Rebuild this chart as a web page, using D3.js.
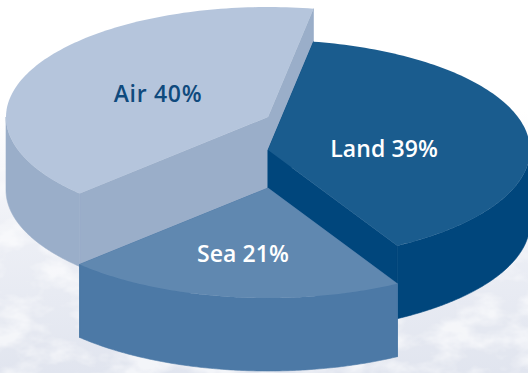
<!DOCTYPE html>
<html>
<head>
<meta charset="utf-8">
<script src="https://cdn.jsdelivr.net/npm/d3@7"></script>
<style>
  html, body { margin: 0; padding: 0; background: #fff; }
  svg { display: block; }
  text { font-family: "Open Sans", sans-serif; font-size: 23px; }
</style>
</head>
<body>
<script>
// Share of transport by mode
const categories = ["Land", "Sea", "Air"];
const shares = [39, 21, 40];
const topColours = ["#1a5c8e", "#6088b0", "#b5c5dc"];
const sideColours = ["#00467c", "#4c79a6", "#9aaec9"];
const labelColours = ["#ffffff", "#ffffff", "#0f4a7d"];
const labelWeights = [600, 600, 600];
const labelTracking = [0.1, 0.1, 0.7];

const width = 528, height = 373;
const rx = 262, ry = 110, depth = 73, cx = 268;
// Each wedge is pulled out vertically from the shared axis.
const centreY = { Land: 150, Sea: 188, Air: 117 };
const labelPos = { Land: [384, 157], Sea: [243, 262], Air: [158, 102] };

const svg = d3.select("body").append("svg").attr("width", width).attr("height", height);
const defs = svg.append("defs");

const fade = defs.append("linearGradient").attr("id", "fade")
  .attr("x1", 0).attr("x2", 0).attr("y1", 0).attr("y2", 1);
fade.append("stop").attr("offset", "0.3").attr("stop-color", "#ffffff");
fade.append("stop").attr("offset", "0.6").attr("stop-color", "#eef0f6");
fade.append("stop").attr("offset", "1").attr("stop-color", "#e1e5ef");

// Pale cloud texture behind the chart
const clouds = defs.append("filter").attr("id", "clouds")
  .attr("x", 0).attr("y", 0).attr("width", "100%").attr("height", "100%");
clouds.append("feTurbulence").attr("type", "fractalNoise")
  .attr("baseFrequency", "0.025 0.04").attr("numOctaves", 4).attr("seed", 11);
clouds.append("feColorMatrix").attr("type", "matrix")
  .attr("values", "0 0 0 0 1  0 0 0 0 1  0 0 0 0 1  3 0 0 0 -1.2");

const mask = defs.append("linearGradient").attr("id", "cloudFade")
  .attr("x1", 0).attr("x2", 0).attr("y1", 0).attr("y2", 1);
mask.append("stop").attr("offset", "0.35").attr("stop-color", "#000");
mask.append("stop").attr("offset", "0.65").attr("stop-color", "#fff");
defs.append("mask").attr("id", "cloudMask").append("rect")
  .attr("width", width).attr("height", height).attr("fill", "url(#cloudFade)");

svg.append("rect").attr("width", width).attr("height", height).attr("fill", "url(#fade)");
svg.append("g").attr("mask", "url(#cloudMask)").append("rect")
  .attr("width", width).attr("height", height).attr("filter", "url(#clouds)").attr("opacity", 0.6);

const rad = d => d * Math.PI / 180;
const pie = d3.pie().sort(null).startAngle(rad(10)).endAngle(rad(370));
const slices = pie(shares).map((s, i) => ({
  name: categories[i],
  start: s.startAngle,
  end: s.endAngle,
  top: topColours[i],
  side: sideColours[i],
  label: labelColours[i],
  weight: labelWeights[i],
  tracking: labelTracking[i],
  text: `${categories[i]} ${shares[i]}%`
}));

const at = (t, y0) => [cx + rx * Math.sin(t), y0 - ry * Math.cos(t)];
const line = d3.line();
const rimPoints = (a, b, y0) => d3.range(0, 121).map(k => at(a + (b - a) * k / 120, y0));

function drawSlice(s) {
  const y0 = centreY[s.name];
  const y1 = y0 + depth;
  const g = svg.append("g").attr("class", "slice");
  // Flat cut faces along both radii; a hairline stroke closes the seams
  [s.start, s.end].forEach(t => {
    const p = at(t, y0), q = at(t, y1);
    g.append("path").attr("fill", s.side).attr("stroke", s.side).attr("stroke-width", 0.6)
      .attr("d", line([[cx, y0], p, q, [cx, y1]]) + "Z");
  });
  // Outer curved wall, only the part facing the viewer
  const a = Math.max(s.start, rad(90)), b = Math.min(s.end, rad(270));
  if (b > a) {
    g.append("path").attr("fill", s.side).attr("stroke", s.side).attr("stroke-width", 0.6)
      .attr("d", line(rimPoints(a, b, y0).concat(rimPoints(b, a, y1))) + "Z");
  }
  // Top face
  g.append("path").attr("fill", s.top)
    .attr("d", line([[cx, y0]].concat(rimPoints(s.start, s.end, y0))) + "Z");
}

// Back wedge first, front wedge last
["Air", "Land", "Sea"].forEach(n => drawSlice(slices.find(s => s.name === n)));

svg.append("g").selectAll("text").data(slices).join("text")
  .attr("x", d => labelPos[d.name][0])
  .attr("y", d => labelPos[d.name][1])
  .attr("text-anchor", "middle")
  .attr("fill", d => d.label)
  .attr("font-weight", d => d.weight)
  .attr("letter-spacing", d => d.tracking)
  .text(d => d.text);
</script>
</body>
</html>
